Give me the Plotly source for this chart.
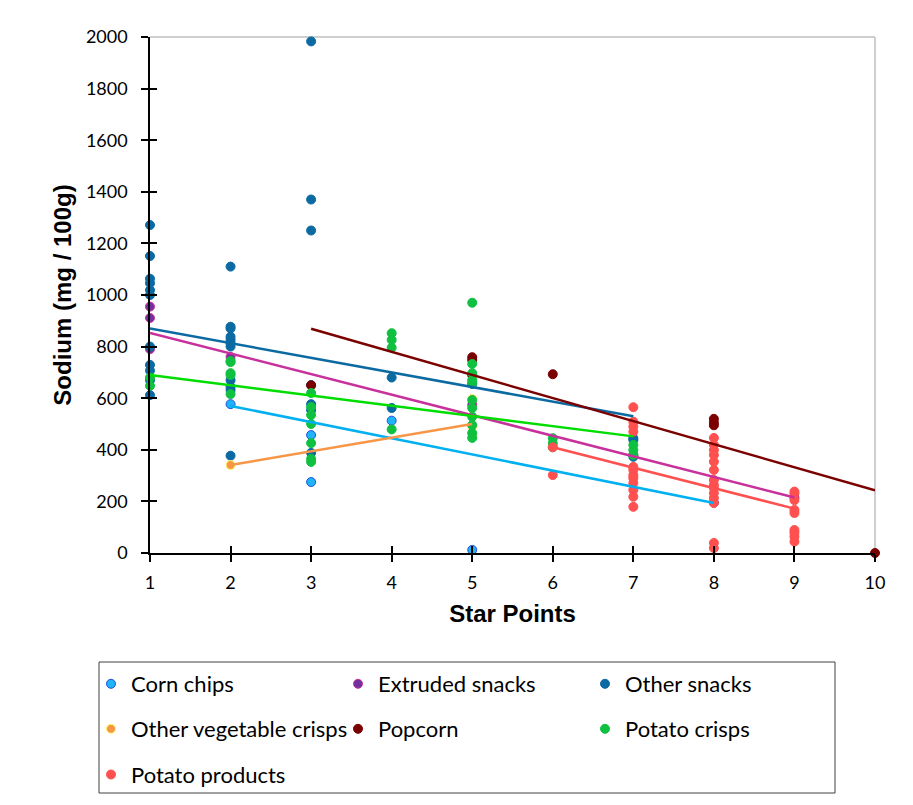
import plotly.graph_objects as go

# ---------------- data ----------------
series_names = ["Corn chips", "Extruded snacks", "Other snacks", "Other vegetable crisps",
                "Popcorn", "Potato crisps", "Potato products"]

corn_x = [2, 3, 3, 4, 5, 8]
corn_y = [577, 457, 275, 513, 12, 195]

extruded_x = [1, 1, 1, 2, 5, 7, 9]
extruded_y = [955, 911, 790, 760, 575, 380, 215]

other_x = [1, 1, 1, 1, 1, 1, 1, 1, 1, 1, 1,
           2, 2, 2, 2, 2, 2, 2, 2, 2, 2, 2,
           3, 3, 3, 3, 3, 3, 3,
           4, 4, 5, 7, 7, 7]
other_y = [1271, 1151, 1063, 1046, 1019, 1000, 800, 729, 707, 670, 612,
           1110, 877, 870, 838, 826, 813, 800, 670, 645, 632, 377,
           1983, 1370, 1250, 651, 577, 554, 388,
           680, 562, 655, 445, 438, 373]

veg_x = [2, 5, 5, 5, 5]
veg_y = [341, 597, 451, 460, 490]

popcorn_x = [3, 5, 5, 5, 6, 8, 8, 8, 10]
popcorn_y = [650, 759, 748, 690, 693, 520, 505, 495, 0]

crisps_x = [1, 1,
            2, 2, 2, 2, 2,
            3, 3, 3, 3, 3, 3, 3,
            4, 4, 4, 4,
            5, 5, 5, 5, 5, 5, 5, 5, 5, 5, 5,
            6, 6, 6,
            7, 7, 7]
crisps_y = [680, 648,
            744, 740, 697, 690, 616,
            620, 566, 535, 500, 426, 365, 353,
            852, 826, 796, 479,
            970, 733, 697, 670, 658, 593, 562, 528, 496, 465, 446,
            445, 425, 410,
            419, 399, 380]

products_x = [6, 6,
              7, 7, 7, 7, 7, 7, 7, 7, 7, 7, 7, 7,
              8, 8, 8, 8, 8, 8, 8, 8, 8, 8, 8, 8, 8, 8,
              9, 9, 9, 9, 9, 9, 9, 9, 9]
products_y = [410, 302,
              565, 509, 490, 470, 334, 322, 302, 290, 271, 244, 218, 179,
              446, 419, 399, 380, 354, 322, 283, 264, 252, 232, 213, 194, 39, 19,
              238, 230, 205, 167, 155, 89, 78, 63, 44]

# linear trend lines (start / end)
trend_x_start = [2, 1, 1, 2, 3, 1, 6]
trend_x_end = [8, 9, 7, 5, 10, 7, 9]
trend_y_start = [570, 853, 870, 341, 869, 690, 410]
trend_y_end = [194, 215, 530, 500, 243, 452, 172]

x_ticks = [1, 2, 3, 4, 5, 6, 7, 8, 9, 10]
y_ticks = [0, 200, 400, 600, 800, 1000, 1200, 1400, 1600, 1800, 2000]

# ---------------- styles ----------------
fill_colors = ["#1FB4F5", "#7030A0", "#0B6AA2", "#F79646", "#7B0000", "#10C040", "#FF5050"]
edge_colors = ["#2050E0", "#CC3399", "#0B6AA2", "#FFFF66", "#7B0000", "#10C040", "#FF5050"]
line_colors = ["#00B0F0", "#C8309B", "#0B6AA2", "#F79646", "#7B0000", "#00DD00", "#FF5050"]
legend_ids = ["legend", "legend", "legend", "legend2", "legend2", "legend2", "legend3"]

xs = [corn_x, extruded_x, other_x, veg_x, popcorn_x, crisps_x, products_x]
ys = [corn_y, extruded_y, other_y, veg_y, popcorn_y, crisps_y, products_y]

# plot-area geometry in pixels (used to place legend rows and box in paper units)
PX_L, PX_R, PX_T, PX_B = 150, 875, 37, 553


def paper_x(px):
    return (px - PX_L) / (PX_R - PX_L)


def paper_y(py):
    return (PX_B - py) / (PX_B - PX_T)


fig = go.Figure()

for i, name in enumerate(series_names):
    fig.add_trace(go.Scatter(
        x=xs[i], y=ys[i], mode="markers", name=name,
        marker=dict(size=9, color=fill_colors[i],
                    line=dict(color=edge_colors[i], width=1)),
        legend=legend_ids[i], cliponaxis=False,
    ))

for i, name in enumerate(series_names):
    fig.add_trace(go.Scatter(
        x=[trend_x_start[i], trend_x_end[i]], y=[trend_y_start[i], trend_y_end[i]],
        mode="lines", line=dict(color=line_colors[i], width=2.5),
        showlegend=False, hoverinfo="skip", cliponaxis=False,
    ))

# invisible trace to activate the overlay axes (inside half of crossing ticks)
fig.add_trace(go.Scatter(x=[None], y=[None], xaxis="x2", yaxis="y2",
                         showlegend=False, hoverinfo="skip"))

tick_font = dict(family="Lato, Noto Sans, sans-serif", size=18, color="black")
title_font = dict(family="Liberation Sans, Arial, sans-serif", size=24, color="black", weight="bold")

legend_common = dict(orientation="h", xref="paper", yref="paper",
                     x=paper_x(91), xanchor="left", yanchor="middle",
                     font=dict(family="Lato, Noto Sans, sans-serif", size=22, color="black"),
                     bgcolor="rgba(0,0,0,0)", borderwidth=0,
                     entrywidth=202, entrywidthmode="pixels", itemclick=False)

fig.update_layout(
    width=913, height=805,
    margin=dict(l=150, r=38, t=37, b=252, autoexpand=False),
    paper_bgcolor="white", plot_bgcolor="white",
    showlegend=True,
    legend=dict(legend_common, y=paper_y(684)),
    legend2=dict(legend_common, y=paper_y(729)),
    legend3=dict(legend_common, y=paper_y(774.7)),
    xaxis=dict(range=[1, 10], tickvals=x_ticks, showgrid=False, zeroline=False,
               showline=True, linecolor="black", linewidth=1.5,
               ticks="outside", ticklen=7, tickwidth=1.5, tickcolor="black",
               tickfont=tick_font, ticklabelstandoff=6,
               title=dict(text="Star Points", font=title_font, standoff=13)),
    yaxis=dict(range=[0, 2000], tickvals=y_ticks, showgrid=False, zeroline=False,
               showline=True, linecolor="black", linewidth=1.5,
               ticks="outside", ticklen=7, tickwidth=1.5, tickcolor="black",
               tickfont=tick_font, ticklabelstandoff=10,
               title=dict(text="Sodium (mg / 100g)", font=title_font, standoff=7)),
    xaxis2=dict(overlaying="x", matches="x", range=[1, 10], tickvals=x_ticks,
                ticks="inside", ticklen=7, tickwidth=1.5, tickcolor="black",
                showticklabels=False, showgrid=False, zeroline=False, showline=False,
                side="bottom", anchor="y2"),
    yaxis2=dict(overlaying="y", matches="y", range=[0, 2000], tickvals=y_ticks,
                ticks="inside", ticklen=7, tickwidth=1.5, tickcolor="black",
                showticklabels=False, showgrid=False, zeroline=False, showline=False,
                side="left", anchor="x2"),
    shapes=[
        # gray plot frame top and right
        dict(type="line", xref="paper", yref="paper", x0=0, x1=1, y0=1, y1=1,
             line=dict(color="#BFBFBF", width=1.5), layer="below"),
        dict(type="line", xref="paper", yref="paper", x0=1, x1=1, y0=0, y1=1,
             line=dict(color="#BFBFBF", width=1.5), layer="below"),
        # legend box
        dict(type="rect", xref="paper", yref="paper",
             x0=paper_x(99), x1=paper_x(835),
             y0=paper_y(793), y1=paper_y(662),
             line=dict(color="#404040", width=1), fillcolor="rgba(0,0,0,0)"),
    ],
)

fig.write_html("out.html")
